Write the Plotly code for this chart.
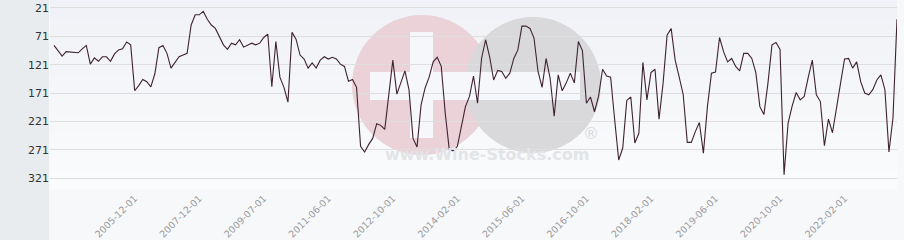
import plotly.graph_objects as go

# values (rank-like, reversed axis)
values = [
    87, 96, 106, 98, 99, 99, 100, 93, 87, 120,
    109, 115, 107, 107, 115, 102, 95, 93, 81, 86,
    167, 158, 147, 151, 160, 137, 91, 87, 101, 127,
    117, 107, 104, 101, 51, 33, 33, 27, 41, 51,
    57, 73, 86, 94, 83, 86, 77, 90, 87, 83,
    86, 83, 73, 67, 160, 80, 143, 161, 187, 64,
    76, 104, 111, 127, 118, 127, 113, 107, 111, 108,
    111, 120, 124, 150, 147, 161, 265, 275, 262, 251,
    225, 228, 235, 177, 113, 173, 151, 132, 165, 251,
    266, 192, 162, 143, 116, 108, 124, 207, 271, 273,
    265, 230, 195, 177, 141, 189, 110, 77, 107, 148,
    131, 133, 145, 136, 110, 95, 53, 53, 57, 74,
    133, 161, 110, 145, 212, 139, 167, 153, 136, 153,
    80, 96, 189, 178, 204, 177, 129, 141, 143, 218,
    289, 268, 184, 178, 259, 242, 117, 183, 135, 129,
    217, 154, 69, 57, 113, 143, 174, 258, 258, 239,
    223, 277, 195, 136, 134, 73, 98, 116, 110, 124,
    132, 101, 101, 110, 135, 195, 209, 154, 86, 82,
    94, 315, 224, 194, 170, 183, 177, 143, 113, 174,
    186, 264, 217, 241, 201, 154, 111, 110, 127, 116,
    151, 171, 174, 165, 148, 139, 165, 275, 215, 41,
]
points = list(range(len(values)))

tick_labels = ["2005-12-01", "2007-12-01", "2009-07-01", "2011-06-01",
               "2012-10-01", "2014-02-01", "2015-06-01", "2016-10-01",
               "2018-02-01", "2019-06-01", "2020-10-01", "2022-02-01"]
tick_points = [20, 36, 52, 68, 84, 100, 116, 132, 148, 164, 180, 196]
y_ticks = [21, 71, 121, 171, 221, 271, 321]

fig = go.Figure()
fig.add_trace(go.Scatter(x=points, y=values, mode="lines",
                         line=dict(color="#3e2230", width=1.1),
                         hoverinfo="y", showlegend=False))

PW, PH = 847, 190

def px(x):
    return (x - 50) / PW

def py(y):
    return 1 - y / PH

shapes = []
shapes.append(dict(type="rect", xref="paper", yref="paper", x0=px(0), x1=px(49),
                   y0=py(245), y1=py(-5), fillcolor="#e8ecef", line=dict(width=0), layer="below"))
nb = 10
for i in range(nb):
    t = i / (nb - 1)
    r = int(240 + (250 - 240) * t)
    g = int(242 + (251 - 242) * t)
    b = int(247 + (252 - 247) * t)
    shapes.append(dict(type="rect", xref="paper", yref="paper", x0=0, x1=1,
                       y0=1 - (i + 1) / nb, y1=1 - i / nb,
                       fillcolor=f"rgb({r},{g},{b})", line=dict(width=0), layer="below"))

shapes.append(dict(type="circle", xref="paper", yref="paper",
                   x0=px(352), x1=px(492), y0=py(155), y1=py(15),
                   fillcolor="#ead2d8", line=dict(width=0), layer="below"))
shapes.append(dict(type="circle", xref="paper", yref="paper",
                   x0=px(465), x1=px(601), y0=py(153), y1=py(17),
                   fillcolor="#d9d9db", line=dict(width=0), layer="below"))
shapes.append(dict(type="rect", xref="paper", yref="paper",
                   x0=px(410), x1=px(433), y0=py(138), y1=py(32),
                   fillcolor="#f6f7fa", line=dict(width=0), layer="below"))
shapes.append(dict(type="rect", xref="paper", yref="paper",
                   x0=px(370), x1=px(580), y0=py(100), y1=py(72),
                   fillcolor="#f6f7fa", line=dict(width=0), layer="below"))

fig.update_layout(
    width=904, height=240,
    margin=dict(l=50, r=7, t=0, b=50),
    paper_bgcolor="#f7f8fa",
    plot_bgcolor="rgba(0,0,0,0)",
    shapes=shapes,
    annotations=[
        dict(text="<b>www.Wine-Stocks.com</b>", xref="paper", yref="paper",
             x=px(487), y=py(166), showarrow=False,
             font=dict(family="DejaVu Sans", size=16, color="#e3e4e7")),
        dict(text="®", xref="paper", yref="paper", x=px(591), y=py(145),
             showarrow=False, font=dict(family="DejaVu Sans", size=16, color="#dcdcde")),
    ],
    xaxis=dict(range=[-1, 209], tickmode="array", tickvals=tick_points,
               ticktext=tick_labels, tickangle=-45, showgrid=False, zeroline=False,
               showline=False, ticks="", automargin=False,
               tickfont=dict(family="DejaVu Sans", size=9.5, color="#9a9a9a")),
    yaxis=dict(range=[342, 6.9], tickmode="array", tickvals=y_ticks,
               showgrid=True, gridcolor="#dedede", gridwidth=1, zeroline=False,
               showline=False, ticks="", automargin=False,
               tickfont=dict(family="DejaVu Sans", size=11, color="#333333")),
)

fig.write_html("out.html")
